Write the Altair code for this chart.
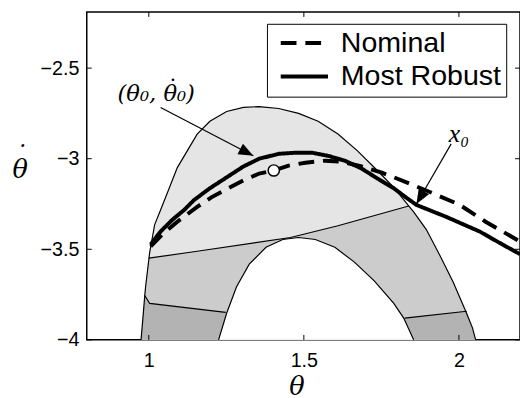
import altair as alt
import pandas as pd

# ---- data (theta, theta-dot) ----
outer_x = [0.975, 0.981, 0.987, 0.990, 1.003, 1.019, 1.038, 1.067, 1.092, 1.124, 1.156, 1.197, 1.251,
           1.305, 1.356, 1.419, 1.483, 1.546, 1.610, 1.673, 1.737, 1.790, 1.838, 1.854, 1.895, 1.940,
           1.981, 2.022, 2.044, 2.054]
outer_y = [-4.0, -3.880, -3.755, -3.701, -3.516, -3.364, -3.283, -3.158, -3.049, -2.957, -2.864, -2.793,
           -2.739, -2.717, -2.712, -2.723, -2.750, -2.793, -2.864, -2.957, -3.065, -3.158, -3.261, -3.293,
           -3.391, -3.538, -3.679, -3.842, -3.935, -4.0]
inner_x = [1.225, 1.251, 1.283, 1.324, 1.378, 1.432, 1.483, 1.537, 1.600, 1.663, 1.727, 1.790, 1.822, 1.854]
inner_y = [-4.0, -3.853, -3.707, -3.582, -3.489, -3.446, -3.435, -3.446, -3.489, -3.571, -3.674, -3.799,
           -3.880, -4.0]
div1_x = [1.000, 1.156, 1.457, 1.610, 1.838]
div1_y = [-3.549, -3.511, -3.435, -3.370, -3.261]
div2a_x = [0.987, 1.003, 1.248]
div2a_y = [-3.755, -3.799, -3.848]
div2b_x = [1.825, 2.025]
div2b_y = [-3.880, -3.842]

rob_x = [1.006, 1.038, 1.076, 1.114, 1.146, 1.197, 1.251, 1.305, 1.356, 1.419, 1.473, 1.527, 1.578,
         1.632, 1.686, 1.737, 1.790, 1.832, 1.863, 1.959, 2.067, 2.140, 2.197]
rob_y = [-3.473, -3.402, -3.337, -3.283, -3.228, -3.163, -3.103, -3.043, -3.000, -2.973, -2.967, -2.967,
         -2.984, -3.011, -3.054, -3.109, -3.163, -3.217, -3.255, -3.321, -3.402, -3.473, -3.527]
nom_x = [1.006, 1.044, 1.092, 1.156, 1.203, 1.251, 1.305, 1.356, 1.403, 1.451, 1.505, 1.568, 1.622,
         1.686, 1.749, 1.800, 1.908, 2.003, 2.086, 2.197]
nom_y = [-3.484, -3.418, -3.348, -3.266, -3.212, -3.168, -3.120, -3.082, -3.065, -3.038, -3.022, -3.011,
         -3.016, -3.043, -3.076, -3.109, -3.185, -3.255, -3.348, -3.457]
series_names = ["Nominal", "Most Robust"]

start_pt = (1.403, -3.065)
arrow1 = [(1.038, -2.717), (1.337, -2.984)]
arrow2 = [(1.975, -2.918), (1.863, -3.250)]
label1 = (1.024, -2.679, "(θ₀, θ₀)")
label2 = (2.0, -2.864, "x₀")

x_ticks = [1, 1.5, 2]
y_ticks = [-4, -3.5, -3, -2.5]
x_domain = [0.8, 2.197]
y_domain = [-4.0, -2.19]

W, H = 440, 333

# ---- helpers ----
def poly(xs, ys):
    return pd.DataFrame({"x": xs, "y": ys, "i": list(range(len(xs)))})

light_df = poly(outer_x, outer_y)
mid_df = poly(div1_x + outer_x[23:] + outer_x[0:4], div1_y + outer_y[23:] + outer_y[0:4])
dark_df = poly(div2a_x + div2b_x + outer_x[28:] + outer_x[0:2], div2a_y + div2b_y + outer_y[28:] + outer_y[0:2])
hole_df = poly(inner_x, inner_y)

edges = []
for name, xs, ys in [("outer", outer_x, outer_y), ("inner", inner_x, inner_y), ("d1", div1_x, div1_y),
                     ("d2a", div2a_x, div2a_y), ("d2b", div2b_x, div2b_y)]:
    for k, (a, b) in enumerate(zip(xs, ys)):
        edges.append({"seg": name, "x": a, "y": b, "i": k})
edges_df = pd.DataFrame(edges)

curve_rows = []
for k, (a, b) in enumerate(zip(nom_x, nom_y)):
    curve_rows.append({"series": "Nominal", "x": a, "y": b, "i": k})
for k, (a, b) in enumerate(zip(rob_x, rob_y)):
    curve_rows.append({"series": "Most Robust", "x": a, "y": b, "i": k})
curve_df = pd.DataFrame(curve_rows)

xscale = alt.Scale(domain=x_domain, nice=False, zero=False)
yscale = alt.Scale(domain=y_domain, nice=False, zero=False)
xaxis = alt.Axis(values=x_ticks, format="~g", title="θ", ticks=False, tickSize=0, domain=False, grid=False,
                 labelFont="Liberation Sans", labelFontSize=20, labelPadding=11, labelColor="black",
                 titleFont="DejaVu Serif", titleFontStyle="italic", titleFontWeight="normal",
                 titleFontSize=26, titleX=213, titleY=55, titleAlign="center", titleBaseline="alphabetic",
                 titleColor="black")
yaxis = alt.Axis(values=y_ticks, format="~g", title=["\u2009\u02d9", "θ"], ticks=False, tickSize=0,
                 domain=False, grid=False,
                 labelFont="Liberation Sans", labelFontSize=20, labelPadding=8, labelColor="black",
                 titleFont="DejaVu Serif", titleFontStyle="italic", titleFontWeight="normal",
                 titleFontSize=26, titleLineHeight=14, titleAngle=0, titleX=-68, titleY=154,
                 titleAlign="center", titleBaseline="alphabetic", titleColor="black")
X = alt.X("x:Q", scale=xscale, axis=xaxis)
Y = alt.Y("y:Q", scale=yscale, axis=yaxis)

def fill_layer(df, color):
    return alt.Chart(df).mark_line(fill=color, strokeOpacity=0, interpolate="linear").encode(
        x=X, y=Y, order="i:Q")

light = fill_layer(light_df, "#e5e5e5")
mid = fill_layer(mid_df, "#cccccc")
dark = fill_layer(dark_df, "#b3b3b3")
hole = fill_layer(hole_df, "#ffffff")

edge_lines = alt.Chart(edges_df).mark_line(color="black", strokeWidth=1.2).encode(
    x=X, y=Y, order="i:Q", detail="seg:N")

curves = alt.Chart(curve_df).mark_line(color="black", strokeWidth=4, clip=True).encode(
    x=X, y=Y, order="i:Q",
    strokeDash=alt.StrokeDash(
        "series:N",
        scale=alt.Scale(domain=series_names, range=[[16, 9], [1, 0]]),
        legend=alt.Legend(title=None, orient="none", legendX=183, legendY=12, direction="vertical",
                          symbolType="stroke", symbolSize=2304, symbolStrokeWidth=4,
                          symbolStrokeColor="black", symbolOffset=7, labelOffset=11, clipHeight=29,
                          labelFont="Liberation Sans", labelFontSize=29, labelColor="black",
                          labelLimit=0, padding=5, rowPadding=4, strokeColor="black",
                          fillColor="white", labelExpr="datum.label + '\u00a0\u00a0\u00a0\u00a0'"),
    ),
)

start_df = pd.DataFrame({"x": [start_pt[0]], "y": [start_pt[1]]})
start = alt.Chart(start_df).mark_circle(size=130, fill="white", stroke="black", strokeWidth=1.5,
                                        opacity=1).encode(x=X, y=Y)

arrow_rows = []
for name, arr in [("a1", arrow1), ("a2", arrow2)]:
    for k, (a, b) in enumerate(arr):
        arrow_rows.append({"a": name, "x": a, "y": b, "i": k})
arrow_df = pd.DataFrame(arrow_rows)
arrow_lines = alt.Chart(arrow_df).mark_line(color="black", strokeWidth=1.2).encode(
    x=X, y=Y, order="i:Q", detail="a:N")

head_shape = "M0,0L-0.8,2L0.8,2Z"
head1 = alt.Chart(pd.DataFrame({"x": [arrow1[1][0]], "y": [arrow1[1][1]]})).mark_point(
    shape=head_shape, filled=True, color="black", size=225, angle=117.6, opacity=1).encode(x=X, y=Y)
head2 = alt.Chart(pd.DataFrame({"x": [arrow2[1][0]], "y": [arrow2[1][1]]})).mark_point(
    shape=head_shape, filled=True, color="black", size=225, angle=210.3, opacity=1).encode(x=X, y=Y)

lab1_df = pd.DataFrame({"x": [label1[0]], "y": [label1[1]], "t": [label1[2]]})
lab1 = alt.Chart(lab1_df).mark_text(
    font="DejaVu Serif", fontStyle="italic", fontSize=23, color="black", align="center",
    baseline="alphabetic").encode(x=X, y=Y, text="t:N")
lab1_dot = alt.Chart(lab1_df).mark_text(
    text="\u02d9", font="DejaVu Serif", fontSize=23, color="black", align="center",
    baseline="alphabetic", dx=17, dy=-5).encode(x=X, y=Y)
lab2 = alt.Chart(pd.DataFrame({"x": [label2[0]], "y": [label2[1]], "t": [label2[2]]})).mark_text(
    font="Liberation Serif", fontStyle="italic", fontSize=26, color="black", align="center",
    baseline="middle").encode(x=X, y=Y, text="t:N")

# inward axis ticks (MATLAB style)
xt_df = pd.DataFrame({"x": x_ticks})
yt_df = pd.DataFrame({"y": y_ticks})
tick_top = alt.Chart(xt_df).mark_rule(color="black", strokeWidth=1).encode(x=X, y=alt.value(0), y2=alt.value(5))
tick_bot = alt.Chart(xt_df).mark_rule(color="black", strokeWidth=1).encode(x=X, y=alt.value(H), y2=alt.value(H - 5))
tick_left = alt.Chart(yt_df).mark_rule(color="black", strokeWidth=1).encode(y=Y, x=alt.value(0), x2=alt.value(5))
tick_right = alt.Chart(yt_df).mark_rule(color="black", strokeWidth=1).encode(y=Y, x=alt.value(W), x2=alt.value(W - 5))

chart = alt.layer(
    light, mid, dark, hole, edge_lines, curves, start, arrow_lines, head1, head2, lab1, lab1_dot, lab2,
    tick_top, tick_bot, tick_left, tick_right
).properties(
    width=W, height=H, autosize="none",
    padding={"left": 80, "top": 1, "right": 0, "bottom": 56},
    background="white",
).configure_view(stroke="black", strokeWidth=1.5)

chart.save("out.html", embed_options={"renderer": "svg", "actions": False})
